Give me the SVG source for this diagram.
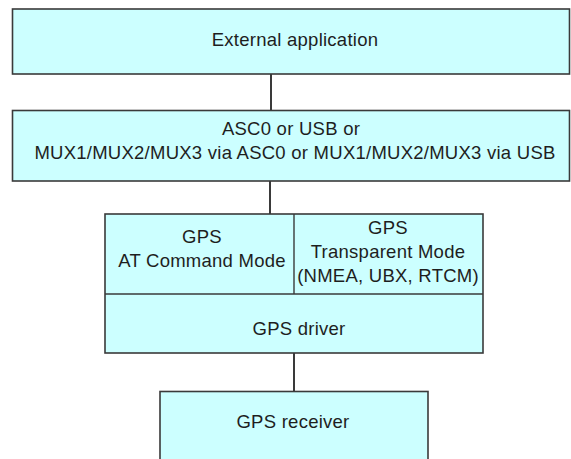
<svg xmlns="http://www.w3.org/2000/svg" width="571" height="459" viewBox="0 0 571 459">
  <style>
    .box { fill: #ccffff; stroke: #3a3a3a; stroke-width: 1.6; }
    .div { fill: none; stroke: #3a3a3a; stroke-width: 1.4; }
    .link { fill: none; stroke: #3a3a3a; stroke-width: 2; }
    text { font-family: "Liberation Sans", Arial, sans-serif; font-size: 18.5px; letter-spacing: 0.25px; fill: #1e1e1e; text-anchor: middle; }
  </style>
  <rect width="571" height="459" fill="#ffffff"/>

  <g id="connectors">
    <line class="link" x1="271" y1="74" x2="271" y2="110"/>
    <line class="link" x1="270" y1="181" x2="270" y2="214"/>
    <line class="link" x1="294" y1="353" x2="294" y2="391"/>
  </g>

  <g id="external-application">
    <rect class="box" x="12.5" y="9" width="557" height="65"/>
    <text x="295" y="46">External application</text>
  </g>

  <g id="interface">
    <rect class="box" x="12.5" y="110.5" width="557" height="70.5"/>
    <text x="291" y="135">ASC0 or USB or</text>
    <text x="295" y="159">MUX1/MUX2/MUX3 via ASC0 or MUX1/MUX2/MUX3 via USB</text>
  </g>

  <g id="gps-stack">
    <rect class="box" x="105" y="214" width="378" height="139"/>
    <line class="div" x1="294" y1="214" x2="294" y2="294"/>
    <line class="div" x1="105" y1="294" x2="483" y2="294"/>
  </g>

  <g id="gps-at-command-mode">
    <text x="202" y="243">GPS</text>
    <text x="202" y="267">AT Command Mode</text>
  </g>

  <g id="gps-transparent-mode">
    <text x="388" y="234">GPS</text>
    <text x="388" y="258">Transparent Mode</text>
    <text x="388" y="282">(NMEA, UBX, RTCM)</text>
  </g>

  <g id="gps-driver">
    <text x="299" y="335">GPS driver</text>
  </g>

  <g id="gps-receiver">
    <rect class="box" x="160" y="391.5" width="268" height="80"/>
    <text x="293" y="428">GPS receiver</text>
  </g>
</svg>
